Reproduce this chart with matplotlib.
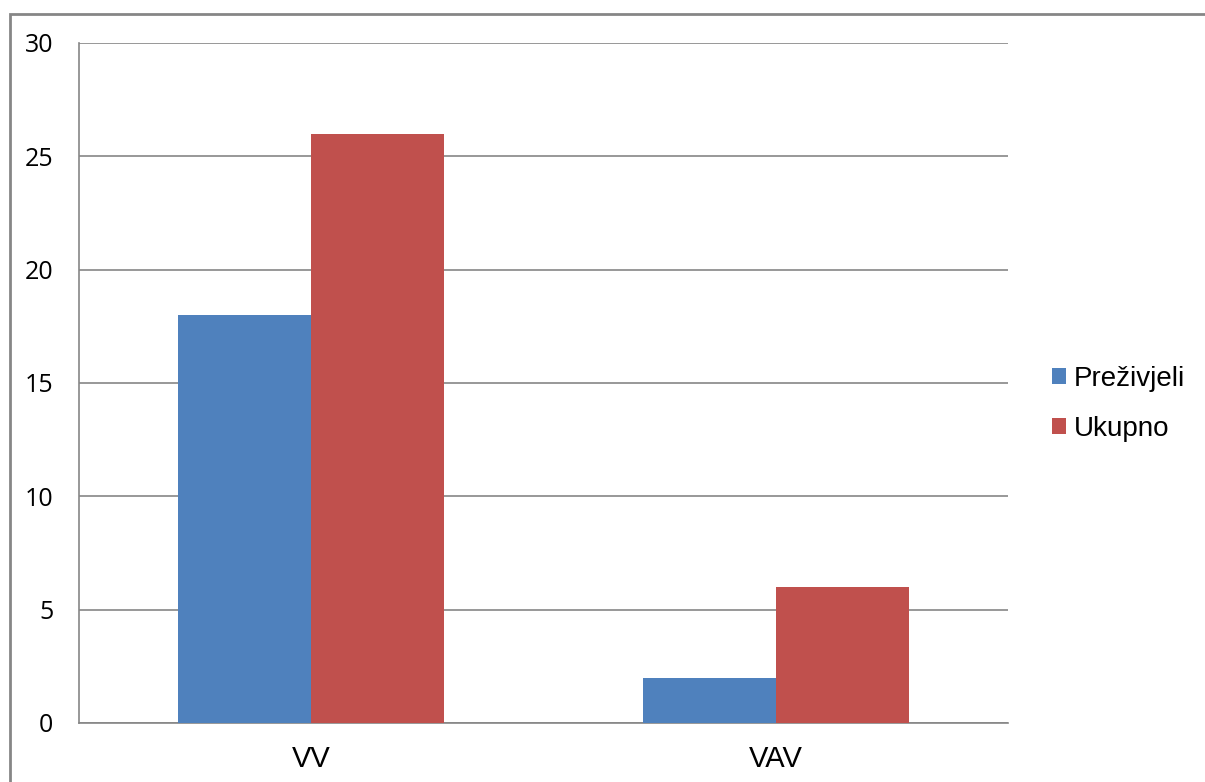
import matplotlib
matplotlib.use("Agg")
import matplotlib.pyplot as plt
from matplotlib.patches import Rectangle
import numpy as np

categories = ["VV", "VAV"]
series_names = ["Preživjeli", "Ukupno"]
prezivjeli = [18, 2]
ukupno = [26, 6]
yticks = [0, 5, 10, 15, 20, 25, 30]

plt.rcParams['font.family'] = ['Liberation Sans', 'DejaVu Sans']

W, H = 1205, 782
fig = plt.figure(figsize=(W / 100, H / 100), dpi=100)
ax = fig.add_axes([79 / W, 1 - 723 / H, (1008 - 79) / W, (723 - 43) / H])

# outer chart border
fig.patches.append(Rectangle((9.5 / W, -0.05), 1.2, 1 - 13.5 / H + 0.05,
                             transform=fig.transFigure, fill=False,
                             edgecolor='#868686', linewidth=2))

x = np.arange(len(categories))
bw = 133 / 464.5
ax.bar(x - bw / 2, prezivjeli, width=bw, color='#4F81BD', label=series_names[0], zorder=3)
ax.bar(x + bw / 2, ukupno, width=bw, color='#C0504D', label=series_names[1], zorder=3)

ax.set_xlim(-0.5, 1.5)
ax.set_ylim(0, 30)
ax.set_yticks(yticks)
ax.set_xticks(x)
ax.set_xticklabels(categories, fontsize=21)
ax.set_yticklabels([str(v) for v in yticks], fontsize=18,
                   family=['Open Sans', 'DejaVu Sans'])
ax.tick_params(axis='y', length=0, pad=18.5)
ax.tick_params(axis='x', length=0, pad=15.5)
ax.yaxis.grid(True, color='#868686', linewidth=1.2, zorder=0)
for s in ['top', 'right']:
    ax.spines[s].set_visible(False)
for s in ['left', 'bottom']:
    ax.spines[s].set_color('#868686')
    ax.spines[s].set_linewidth(1.2)

leg = ax.legend(loc='center left', bbox_to_anchor=(1.047, 0.469), frameon=False,
                fontsize=20, handlelength=0.5, handleheight=0.5, handletextpad=0.3,
                labelspacing=0.85, borderpad=0, borderaxespad=0)

fig.savefig("out.png", dpi=100)
